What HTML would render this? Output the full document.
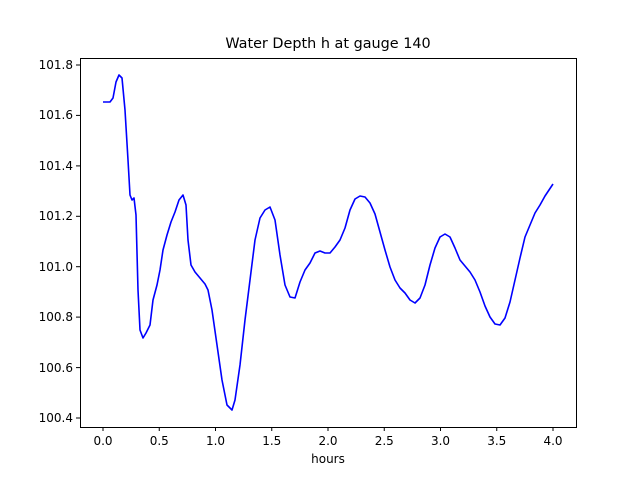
<!DOCTYPE html>
<html><head><meta charset="utf-8"><style>body{margin:0;background:#fff}svg{display:block}text{font-family:"DejaVu Sans","Liberation Sans",sans-serif;fill:#000}</style></head><body>
<svg width="640" height="480" viewBox="0 0 640 480" xmlns="http://www.w3.org/2000/svg">
<rect width="640" height="480" fill="#fff"/>
<text x="328" y="48" font-size="14.4" text-anchor="middle">Water Depth h at gauge 140</text>
<polyline fill="none" stroke="#0000ff" stroke-width="1.6" stroke-linejoin="round" points="103,102 110,102 113,98 116,82 119,75 122,78 125,110 128,160 130,195 132,200 134,198 136,215 138,290 140,330 143,338 146,333 150,325 153,300 157,285 160,270 163,250 167,235 171,222 175,212 179,200 183,195 186,205 188,240 191,265 195,272 200,278 205,284 208,290 212,310 217,345 222,380 227,405 232,410 235,400 240,365 245,320 250,280 255,240 260,218 265,210 270,207 275,220 280,255 285,285 290,297 295,298 300,282 305,270 310,263 315,253 320,251 325,253 330,253 335,247 340,240 345,228 350,210 355,199 360,196 365,197 370,203 375,214 380,232 385,250 390,267 395,280 400,288 405,293 410,300 415,303 420,298 425,285 430,265 435,248 440,237 445,234 450,237 455,248 460,260 465,266 470,272 475,280 480,292 485,306 490,317 495,324 500,325 505,318 510,302 515,280 520,258 525,237 530,225 535,213 540,205 545,196 553,184"/>
<rect x="80.5" y="58.5" width="496" height="369" fill="none" stroke="#000" stroke-width="1"/>
<g stroke="#000" stroke-width="1">
<line x1="103" y1="427" x2="103" y2="431"/><line x1="159.25" y1="427" x2="159.25" y2="431"/><line x1="215.5" y1="427" x2="215.5" y2="431"/><line x1="271.75" y1="427" x2="271.75" y2="431"/><line x1="328" y1="427" x2="328" y2="431"/><line x1="384.25" y1="427" x2="384.25" y2="431"/><line x1="440.5" y1="427" x2="440.5" y2="431"/><line x1="496.75" y1="427" x2="496.75" y2="431"/><line x1="553" y1="427" x2="553" y2="431"/>
<line x1="76" y1="418" x2="80" y2="418"/><line x1="76" y1="367.6" x2="80" y2="367.6"/><line x1="76" y1="317.1" x2="80" y2="317.1"/><line x1="76" y1="266.7" x2="80" y2="266.7"/><line x1="76" y1="216.3" x2="80" y2="216.3"/><line x1="76" y1="165.9" x2="80" y2="165.9"/><line x1="76" y1="115.4" x2="80" y2="115.4"/><line x1="76" y1="65" x2="80" y2="65"/>
</g>
<g font-size="12" text-anchor="middle">
<text x="103" y="445">0.0</text><text x="159.25" y="445">0.5</text><text x="215.5" y="445">1.0</text><text x="271.75" y="445">1.5</text><text x="328" y="445">2.0</text><text x="384.25" y="445">2.5</text><text x="440.5" y="445">3.0</text><text x="496.75" y="445">3.5</text><text x="553" y="445">4.0</text>
<text x="328" y="463">hours</text>
</g>
<g font-size="12" text-anchor="end">
<text x="73" y="422">100.4</text><text x="73" y="372">100.6</text><text x="73" y="321">100.8</text><text x="73" y="271">101.0</text><text x="73" y="220">101.2</text><text x="73" y="170">101.4</text><text x="73" y="119">101.6</text><text x="73" y="69">101.8</text>
</g>
</svg>
</body></html>
